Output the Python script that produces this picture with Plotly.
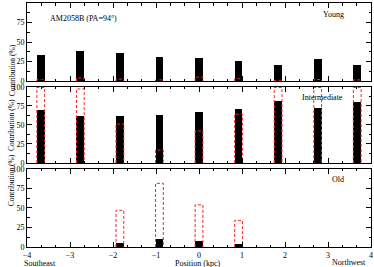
import plotly.graph_objects as go

# ---- data ----
positions = [-3.68, -2.76, -1.84, -0.92, 0.0, 0.92, 1.84, 2.76, 3.68]
young_light = [33, 39, 36, 30.5, 29, 26, 20, 28.5, 20]
young_mass = [2, 4, 2.5, 1.5, 5, 3, 1, 2, 1.5]
inter_light = [70, 61.5, 61.5, 63.5, 67, 71.5, 81.5, 73, 80]
inter_mass = [99, 97, 51, 17, 42, 64, 99, 99, 99]
old_light = [0, 0, 5.5, 10, 7.5, 4.5, 0, 0, 0]
old_mass = [0, 0, 47, 81.5, 54, 34, 0, 0, 0]
x_ticks = [-4, -3, -2, -1, 0, 1, 2, 3, 4]
y_ticks = [0, 25, 50, 75, 100]
panel_labels = ["Young", "Intermediate", "Old"]

FONT = "Liberation Serif"
BW = 0.18


def outline(vals):
    xs, ys = [], []
    for p, v in zip(positions, vals):
        if v > 0:
            xs += [p - BW / 2, p - BW / 2, p + BW / 2, p + BW / 2, None]
            ys += [0, v, v, 0, None]
    return xs, ys


fig = go.Figure()
panels = [(young_light, young_mass), (inter_light, inter_mass), (old_light, old_mass)]
for i, (light, mass) in enumerate(panels):
    xa = "x" if i == 0 else f"x{i+1}"
    ya = "y" if i == 0 else f"y{i+1}"
    fig.add_trace(go.Bar(x=positions, y=light, width=BW,
                         marker=dict(color="black", line=dict(width=0)),
                         xaxis=xa, yaxis=ya, showlegend=False))
    ox, oy = outline(mass)
    fig.add_trace(go.Scatter(x=ox, y=oy, mode="lines",
                             line=dict(color="#ff2020", width=1, dash="3px,2px"),
                             xaxis=xa, yaxis=ya, showlegend=False, cliponaxis=False))

minor_x = [-4 + k / 3 for k in range(25) if k % 3]
domains = [[0.68, 1.0], [0.344, 0.657], [0.0, 0.32]]

common = dict(showline=True, linecolor="black", linewidth=1, mirror="allticks",
              ticks="inside", tickwidth=1, tickcolor="black", showgrid=False,
              zeroline=False, automargin=False,
              tickfont=dict(family=FONT, size=8, color="black"))

layout = dict(
    width=374, height=267,
    margin=dict(l=27, r=3, t=3, b=20),
    paper_bgcolor="white", plot_bgcolor="white",
    bargap=0, barmode="overlay",
    font=dict(family=FONT, color="black"),
)
for i in range(3):
    xk = "xaxis" if i == 0 else f"xaxis{i+1}"
    yk = "yaxis" if i == 0 else f"yaxis{i+1}"
    ya = "y" if i == 0 else f"y{i+1}"
    layout[xk] = dict(common, range=[-4, 4], anchor=ya, tickvals=x_ticks, ticklen=5,
                      showticklabels=(i == 2),
                      minor=dict(tickvals=minor_x, ticks="inside", ticklen=2.5,
                                 tickcolor="black", tickwidth=1))
    layout[yk] = dict(common, range=[0, 100], domain=domains[i], anchor="x" if i == 0 else f"x{i+1}",
                      tickvals=y_ticks, ticklen=5,
                      minor=dict(dtick=12.5, tick0=0, ticks="inside", ticklen=2.5,
                                 tickcolor="black", tickwidth=1))
fig.update_layout(**layout)

ann_font = dict(family=FONT, size=8, color="black")
for i in range(3):
    fig.add_annotation(x=-0.062, y=sum(domains[i]) / 2, xref="paper", yref="paper",
                       text="Contribution (%)", textangle=-90, showarrow=False,
                       font=dict(family=FONT, size=7.5, color="black"))

fig.add_annotation(x=-2.69, y=80, xref="x", yref="y", text="AM2058B (PA=94°)",
                   showarrow=False, font=ann_font)
fig.add_annotation(x=3.12, y=85, xref="x", yref="y", text=panel_labels[0],
                   showarrow=False, font=ann_font)
fig.add_annotation(x=2.88, y=86, xref="x2", yref="y2", text=panel_labels[1],
                   showarrow=False, font=ann_font)
fig.add_annotation(x=3.23, y=87, xref="x3", yref="y3", text=panel_labels[2],
                   showarrow=False, font=ann_font)
fig.add_annotation(x=0.038, y=-0.066, xref="paper", yref="paper", text="Southeast",
                   showarrow=False, font=ann_font, xanchor="center", yanchor="middle")
fig.add_annotation(x=0.497, y=-0.067, xref="paper", yref="paper", text="Position (kpc)",
                   showarrow=False, font=ann_font, xanchor="center", yanchor="middle")
fig.add_annotation(x=0.935, y=-0.064, xref="paper", yref="paper", text="Northwest",
                   showarrow=False, font=ann_font, xanchor="center", yanchor="middle")

fig.write_html("out.html", config={"displayModeBar": False},
               post_script="document.body.style.margin='0px';document.body.style.padding='0px';")
